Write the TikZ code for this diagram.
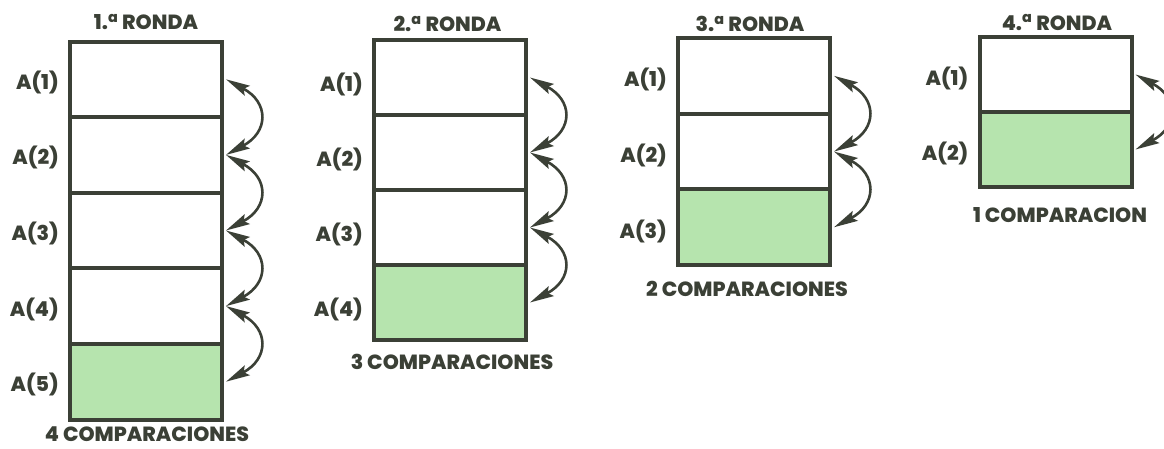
\documentclass[tikz,border=0pt]{standalone}
\usepackage{fontspec}
\setmainfont{Poppins}[BoldFont={* ExtraBold}]
\usetikzlibrary{arrows.meta}
\definecolor{ink}{HTML}{3B4036}
\definecolor{leaf}{HTML}{B6E4AE}
\tikzset{
  cell/.style={draw=ink, line width=4pt, minimum width=152pt, inner sep=0pt,
    outer sep=0pt, fill=white},
  lastcell/.style={cell, fill=leaf},
  lab/.style={text=ink, font=\fontsize{20.5}{24}\selectfont\bfseries, inner sep=0pt},
  dart/.tip={Stealth[length=24pt,width=11pt,inset=4pt]},
  xchg/.style={draw=ink, line width=2.6pt, {dart}-{dart}}
}
\begin{document}
\begin{tikzpicture}[x=1pt,y=-1pt]
\useasboundingbox (0,0) rectangle (1164,448);
\clip (0,0) rectangle (1164,448);

% columns: index / centre x / top y / cell height / cells / label drop
\foreach \c/\cx/\top/\h/\n/\ly in {
  1/146/41.5/75.6/5/3,
  2/450/40/75/4/7,
  3/754/38/75.7/3/4,
  4/1055.5/37/75/2/4}{
  \foreach \i in {1,...,\n}{
    \pgfmathsetmacro\cy{\top+(\i-0.5)*\h}
    \ifnum\i=\n
      \node[lastcell, minimum height=\h pt] (c\c-\i) at (\cx,\cy) {};
    \else
      \node[cell, minimum height=\h pt] (c\c-\i) at (\cx,\cy) {};
    \fi
    \node[lab, anchor=east] (a\c-\i) at ([xshift=-11pt,yshift=-\ly pt]c\c-\i.west) {A(\i)};
  }
  % exchange arrows between neighbouring cells
  \foreach \i in {2,...,\n}{
    \pgfmathtruncatemacro\j{\i-1}
    \draw[xchg] ([xshift=4pt]c\c-\j.east) .. controls +(43,23) and +(43,-23) .. ([xshift=4pt]c\c-\i.east);
  }
}

% round titles
\node[lab] (t1) at (146,22) {1.\textsuperscript{a} RONDA};
\node[lab] (t2) at (447.5,24) {2.\textsuperscript{a} RONDA};
\node[lab] (t3) at (750,24) {3.\textsuperscript{a} RONDA};
\node[lab] (t4) at (1057,22.5) {4.\textsuperscript{a} RONDA};

% comparison counts
\node[lab] (n1) at (147,434) {4 COMPARACIONES};
\node[lab] (n2) at (452,362) {3 COMPARACIONES};
\node[lab] (n3) at (747,289) {2 COMPARACIONES};
\node[lab] (n4) at (1060,215) {1 COMPARACION};
\end{tikzpicture}
\end{document}
